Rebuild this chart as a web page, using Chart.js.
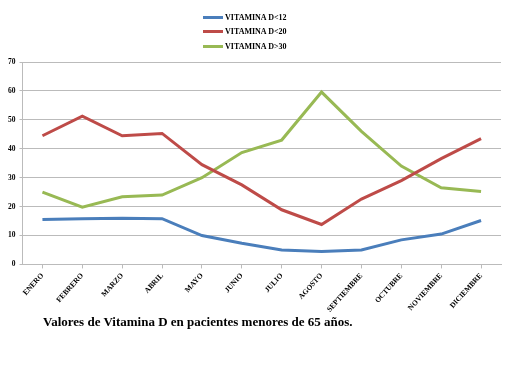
<!DOCTYPE html>
<html>
<head>
<meta charset="utf-8">
<script src="https://cdn.jsdelivr.net/npm/chart.js@4/dist/chart.umd.min.js"></script>
<style>
  body { margin: 0; background: #fff; }
  #wrap { position: relative; width: 519px; height: 391px; }
  #chartBox { position: absolute; left: 0; top: 0; width: 519px; height: 319px; }
  #legend { position: absolute; left: 203px; top: 10px; font-family: "Liberation Serif", "Times New Roman", Times, serif; font-weight: bold; font-size: 8px; }
  #legend div { height: 14.5px; display: flex; align-items: center; }
  #legend span.sw { display: inline-block; width: 20px; height: 3px; margin-right: 2px; }
  #title { position: absolute; left: 43px; top: 314px; font-family: "Liberation Serif", "Times New Roman", Times, serif; font-weight: bold; font-size: 13px; }
</style>
</head>
<body>
<div id="wrap">
  <div id="chartBox"><canvas id="lineChart"></canvas></div>
  <div id="legend"></div>
  <div id="title">Valores de Vitamina D en pacientes menores de 65 años.</div>
</div>
<script>
const months = ['ENERO', 'FEBRERO', 'MARZO', 'ABRIL', 'MAYO', 'JUNIO', 'JULIO', 'AGOSTO', 'SEPTIEMBRE', 'OCTUBRE', 'NOVIEMBRE', 'DICIEMBRE'];
const seriesNames = ['VITAMINA D<12', 'VITAMINA D<20', 'VITAMINA D>30'];
const vitD12 = [15.5, 15.8, 16, 15.8, 10, 7.3, 5, 4.5, 5, 8.5, 10.5, 15.2];
const vitD20 = [44.5, 51.3, 44.5, 45.3, 34.5, 27.5, 18.9, 13.8, 22.6, 29, 36.6, 43.5];
const vitD30 = [25, 19.8, 23.4, 24, 30, 38.7, 43, 59.6, 46, 34, 26.5, 25.2];
const seriesColors = ['#4a7ebb', '#be4b48', '#98b954'];

const allSeries = [vitD12, vitD20, vitD30];

// legend stacked vertically like the original
const legendEl = document.getElementById('legend');
seriesNames.forEach(function(name, i) {
    const row = document.createElement('div');
    const sw = document.createElement('span');
    sw.className = 'sw';
    sw.style.background = seriesColors[i];
    row.appendChild(sw);
    row.appendChild(document.createTextNode(name));
    legendEl.appendChild(row);
});

const tickFont = { family: '"Liberation Serif", "Times New Roman", serif', weight: 'bold', size: 7.5 };

const ctx = document.getElementById('lineChart').getContext('2d');
const myChart = new Chart(ctx, {
    type: 'line',
    data: {
        labels: months,
        datasets: allSeries.map(function(vals, i) {
            return {
                label: seriesNames[i],
                data: vals,
                borderColor: seriesColors[i],
                backgroundColor: seriesColors[i],
                borderWidth: 3,
                pointRadius: 0,
                tension: 0,
                fill: false
            };
        })
    },
    options: {
        responsive: true,
        maintainAspectRatio: false,
        animation: false,
        layout: { padding: { top: 62, left: 4, right: 18, bottom: 2 } },
        scales: {
            x: {
                offset: true,
                grid: { display: true, drawOnChartArea: false, tickLength: 4, color: '#bbbbbb' },
                border: { color: '#bbbbbb' },
                ticks: { font: tickFont, color: '#000', minRotation: 48, maxRotation: 48, autoSkip: false }
            },
            y: {
                min: 0,
                max: 70,
                ticks: { stepSize: 10, font: tickFont, color: '#000', padding: 4 },
                grid: { color: '#bbbbbb', tickLength: 3 },
                border: { color: '#bbbbbb' }
            }
        },
        plugins: {
            legend: { display: false },
            tooltip: { enabled: false }
        }
    }
});
</script>
</body>
</html>
